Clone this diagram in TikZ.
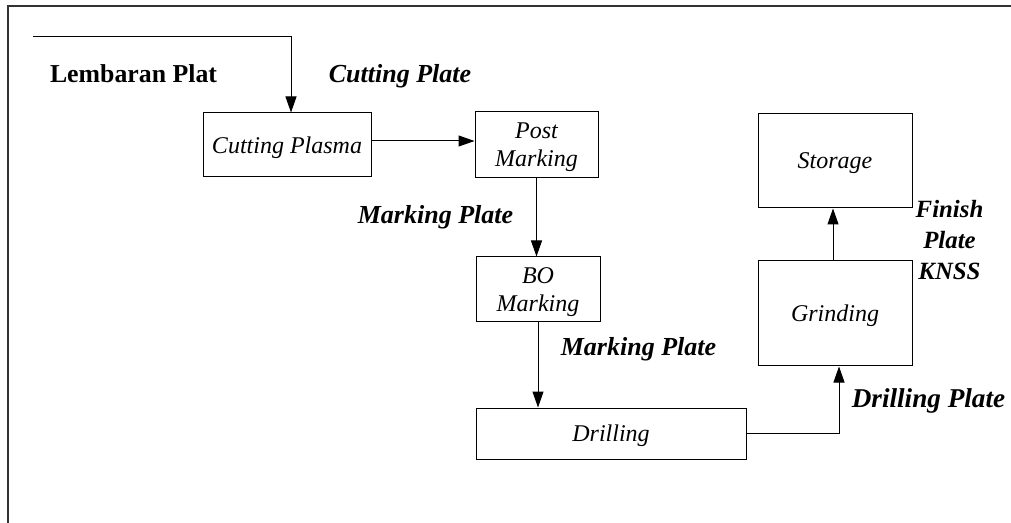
\documentclass[tikz,border=0pt]{standalone}
\usepackage{fontspec}
\setmainfont{Liberation Serif}
\usetikzlibrary{arrows.meta}
\begin{document}
\begin{tikzpicture}[x=0.5pt,y=-0.5pt,
  box/.style={draw, line width=0.5pt, inner sep=0pt, align=center, text depth=0pt,
    font=\itshape\fontsize{12}{14}\selectfont},
  lbl/.style={inner sep=0pt, anchor=base, align=center,
    font=\bfseries\itshape\fontsize{13}{15.5}\selectfont},
  conn/.style={line width=0.5pt, -{Triangle[length=8pt,width=5.5pt]}},
  frame/.style={line width=1pt, draw=black!80}]
\useasboundingbox (0,0) rectangle (1011,523);
\draw[frame] (8,523) -- (8,6) -- (1011,6);
% boxes
\node[box, minimum width=84pt, minimum height=32pt] (cut) at (287,145) {Cutting Plasma};
\node[box, minimum width=61.5pt, minimum height=33pt] (post) at (536.5,145) {Post\\Marking};
\node[box, minimum width=62pt, minimum height=32.5pt] (bo) at (538,289.5) {BO\\Marking};
\node[box, minimum width=135pt, minimum height=25.5pt] (drill) at (611,433.5) {Drilling};
\node[box, minimum width=77pt, minimum height=52.5pt] (grind) at (835,313.5) {Grinding};
\node[box, minimum width=77pt, minimum height=47pt] (store) at (835,161) {Storage};
% labels
\node[lbl, font=\bfseries\fontsize{12.9}{15.5}\selectfont] (l1) at (133.5,83) {Lembaran Plat};
\node[lbl] (l2) at (400,83) {Cutting Plate};
\node[lbl] (l3) at (435.5,224) {Marking Plate};
\node[lbl] (l4) at (638.5,356) {Marking Plate};
\node[lbl, font=\bfseries\itshape\fontsize{13.6}{15.5}\selectfont] (l5) at (928.5,408) {Drilling Plate};
\node[lbl, font=\bfseries\itshape\fontsize{12.4}{15.5}\selectfont] (l6) at (949.5,280) {Finish\\Plate\\KNSS};
% connectors
\coordinate (s0) at (33,37);
\coordinate (s1) at (291,37);
\draw[conn] (s0) -- (s1) -- (s1 |- cut.north);
\coordinate (c1) at (371,141);
\draw[conn] (c1) -- (c1 -| post.west);
\draw[conn] (post.south) -- (post.south |- bo.north);
\draw[conn] (bo.south) -- (bo.south |- drill.north);
\coordinate (d1) at (839,433.5);
\draw[conn] (drill.east) -- (d1) -- (d1 |- grind.south);
\draw[conn] ([xshift=-1pt]grind.north) -- ([xshift=-1pt]store.south);
\end{tikzpicture}
\end{document}
